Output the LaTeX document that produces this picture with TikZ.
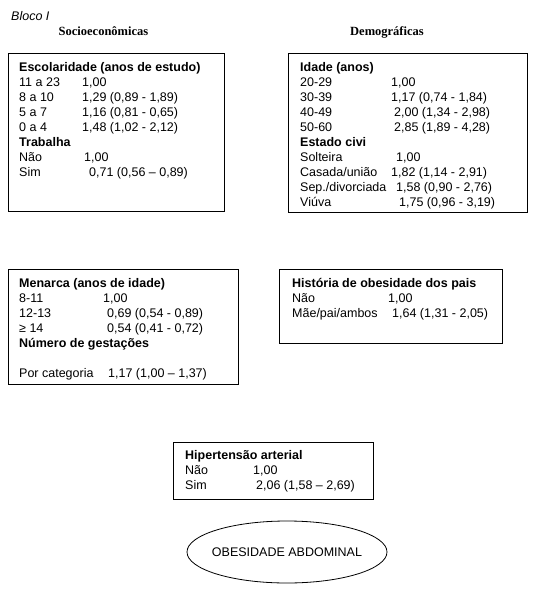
\documentclass[tikz,border=0pt]{standalone}
\usepackage{fontspec}
\setmainfont{Liberation Serif}
\setsansfont{Liberation Sans}
\usepackage{tikz}
\usetikzlibrary{shapes.geometric}
\newcommand{\sz}{\fontsize{12.5}{15}\selectfont}
\newcommand{\hd}[1]{\multicolumn{2}{@{}l@{}}{\textbf{#1}}}
\tikzstyle{box} = [draw, line width=1pt, inner sep=0pt, anchor=north west]
\tikzstyle{txt} = [inner sep=0pt, anchor=base west, font=\sffamily\sz]
\tikzstyle{head} = [inner sep=0pt, anchor=base, font=\rmfamily\bfseries\sz]

\begin{document}
\begin{tikzpicture}[x=1pt, y=-1pt]
            \useasboundingbox (0,0) rectangle (538,598);
            \node[txt] (bloco) at (11,20) {\itshape Bloco I};
            \node[head] (socio) at (103.5,35.5) {Socioeconômicas};
            \node[head] (demo) at (387,35.5) {Demográficas};
            
            \node[box, minimum width=216, minimum height=158] (escol) at (8,53) {};
            \node[txt, xshift=11pt, yshift=-18.5pt] (escoltxt) at (escol.north west) {%
                \begin{tabular}[t]{@{}p{63pt}@{}l@{}}
                \hd{Escolaridade (anos de estudo)}\\
                11 a 23 & 1,00\\
                8 a 10 & 1,29 (0,89 - 1,89)\\
                5 a 7 & 1,16 (0,81 - 0,65)\\
                0 a 4 & 1,48 (1,02 - 2,12)\\
                \hd{Trabalha}\\
                Não & \hspace{2pt}1,00\\
                Sim & \hspace{7pt}0,71 (0,56 -- 0,89)
                \end{tabular}};
            
            \node[box, minimum width=239, minimum height=159] (idade) at (288,53) {};
            \node[txt, xshift=12pt, yshift=-18.5pt] (idadetxt) at (idade.north west) {%
                \begin{tabular}[t]{@{}p{91pt}@{}l@{}}
                \hd{Idade (anos)}\\
                20-29 & 1,00\\
                30-39 & 1,17 (0,74 - 1,84)\\
                40-49 & \hspace{3pt}2,00 (1,34 - 2,98)\\
                50-60 & \hspace{3pt}2,85 (1,89 - 4,28)\\
                \hd{Estado civi}\\
                Solteira & \hspace{5pt}1,00\\
                Casada/união & 1,82 (1,14 - 2,91)\\
                Sep./divorciada & \hspace{5pt}1,58 (0,90 - 2,76)\\
                Viúva & \hspace{8pt}1,75 (0,96 - 3,19)
                \end{tabular}};
            
            \node[box, minimum width=230, minimum height=115] (menarca) at (8,269) {};
            \node[txt, xshift=11pt, yshift=-18.5pt] (menarcatxt) at (menarca.north west) {%
                \begin{tabular}[t]{@{}p{84pt}@{}l@{}}
                \hd{Menarca (anos de idade)}\\
                8-11 & 1,00\\
                12-13 & \hspace{4pt}0,69 (0,54 - 0,89)\\
                ≥ 14 & \hspace{4pt}0,54 (0,41 - 0,72)\\
                \hd{Número de gestações}\\
                & \\
                Por categoria & \hspace{5pt}1,17 (1,00 -- 1,37)
                \end{tabular}};
            
            \node[box, minimum width=223, minimum height=74] (pais) at (279,269) {};
            \node[txt, xshift=13pt, yshift=-18.5pt] (paistxt) at (pais.north west) {%
                \begin{tabular}[t]{@{}p{96pt}@{}l@{}}
                \hd{História de obesidade dos pais}\\
                Não & 1,00\\
                Mãe/pai/ambos & \hspace{4pt}1,64 (1,31 - 2,05)
                \end{tabular}};
            
            \node[box, minimum width=200, minimum height=57] (hiper) at (173,442) {};
            \node[txt, xshift=12pt, yshift=-17.5pt] (hipertxt) at (hiper.north west) {%
                \begin{tabular}[t]{@{}p{68pt}@{}l@{}}
                \hd{Hipertensão arterial}\\
                Não & 1,00\\
                Sim & \hspace{3pt}2,06 (1,58 -- 2,69)
                \end{tabular}};
            
            \node[ellipse, draw, line width=0.8pt, inner sep=0pt, minimum width=200, minimum height=62] (obes) at (287,552) {};
            \node[txt, anchor=center] (obestxt) at (obes.center) {OBESIDADE ABDOMINAL};
        \end{tikzpicture}
\end{document}
